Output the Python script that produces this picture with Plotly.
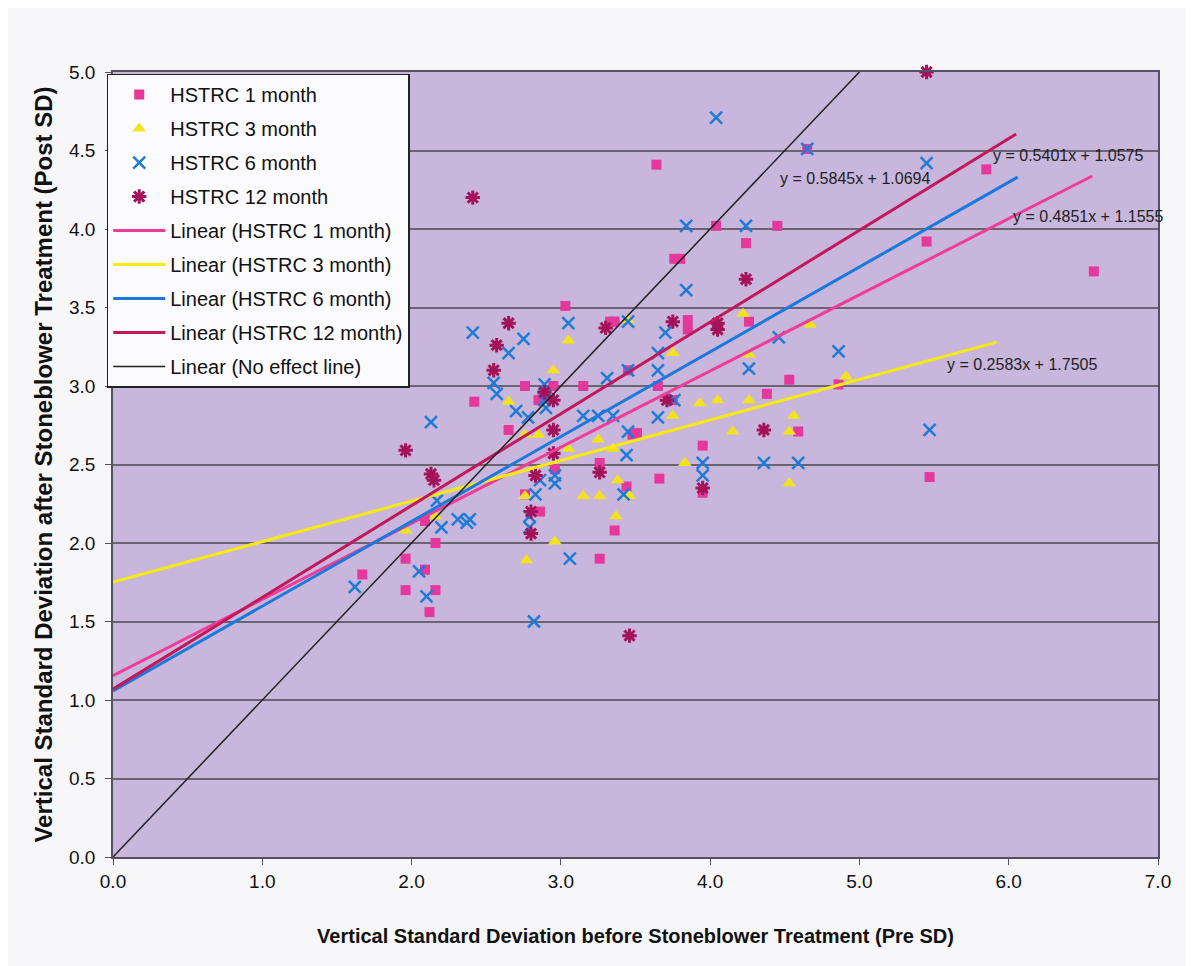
import plotly.graph_objects as go

# ---- data ----
m1_x = [1.67, 1.96, 1.96, 2.09, 2.16, 2.12, 2.16, 2.09, 2.42, 2.76, 2.95, 3.03, 3.15, 3.36, 3.33, 3.65,
        2.85, 3.75, 2.65, 3.51, 3.95, 3.26, 2.96, 3.66, 3.44, 2.76, 2.86, 3.95, 3.36, 3.26, 3.64, 4.65,
        4.04, 4.45, 4.24, 3.76, 3.80, 3.85, 3.85, 4.26, 3.45, 4.53, 4.38, 4.86, 3.48, 4.59, 5.85, 5.45,
        6.57, 5.47]
m1_y = [1.80, 1.90, 1.70, 1.83, 1.70, 1.56, 2.00, 2.14, 2.90, 3.00, 3.00, 3.51, 3.00, 3.41, 3.41, 3.00,
        2.91, 2.91, 2.72, 2.70, 2.62, 2.51, 2.47, 2.41, 2.36, 2.31, 2.20, 2.32, 2.08, 1.90, 4.41, 4.51,
        4.02, 4.02, 3.91, 3.81, 3.81, 3.42, 3.36, 3.41, 3.10, 3.04, 2.95, 3.01, 2.69, 2.71, 4.38, 3.92,
        3.73, 2.42]

m3_x = [1.96, 2.16, 3.05, 2.95, 3.75, 2.65, 3.93, 4.05, 3.75, 2.76, 2.85, 3.05, 3.25, 3.35, 3.83, 3.38,
        2.76, 3.15, 3.26, 3.46, 3.37, 2.96, 2.77, 4.22, 4.67, 4.26, 4.91, 4.26, 4.56, 4.15, 4.53, 4.53,
        3.45]
m3_y = [2.08, 2.17, 3.29, 3.10, 3.21, 2.90, 2.89, 2.91, 2.81, 2.69, 2.69, 2.60, 2.66, 2.60, 2.51, 2.40,
        2.30, 2.30, 2.30, 2.30, 2.17, 2.01, 1.89, 3.46, 3.39, 3.20, 3.06, 2.91, 2.81, 2.71, 2.71, 2.38,
        3.42]

m6_x = [2.13, 2.20, 2.05, 2.10, 1.62, 2.17, 2.31, 2.37, 2.39, 2.82, 3.06, 2.41, 2.75, 2.65, 3.05, 3.45,
        3.70, 3.84, 3.65, 3.65, 3.45, 3.31, 2.89, 2.55, 2.57, 2.90, 2.70, 2.78, 3.15, 3.25, 3.35, 3.65,
        3.45, 3.44, 2.96, 2.96, 2.86, 3.42, 3.95, 3.95, 2.83, 2.79, 2.79, 4.04, 4.65, 3.84, 4.24, 4.46,
        4.86, 4.26, 3.76, 4.36, 4.59, 5.45, 5.47, 2.89]
m6_y = [2.77, 2.10, 1.82, 1.66, 1.72, 2.27, 2.15, 2.13, 2.15, 1.50, 1.90, 3.34, 3.30, 3.21, 3.40, 3.41,
        3.34, 3.61, 3.21, 3.10, 3.10, 3.05, 3.01, 3.02, 2.95, 2.86, 2.84, 2.80, 2.81, 2.81, 2.81, 2.80,
        2.71, 2.56, 2.43, 2.38, 2.40, 2.31, 2.51, 2.43, 2.31, 2.17, 2.10, 4.71, 4.51, 4.02, 4.02, 3.31,
        3.22, 3.11, 2.91, 2.51, 2.51, 4.42, 2.72, 2.91]

m12_x = [2.41, 5.45, 1.96, 2.13, 2.15, 2.65, 2.57, 2.55, 3.30, 3.75, 4.05, 4.05, 2.89, 2.95, 3.71, 2.95,
         2.95, 2.83, 3.26, 2.80, 2.80, 3.95, 4.36, 4.24, 3.46]
m12_y = [4.20, 5.00, 2.59, 2.44, 2.40, 3.40, 3.26, 3.10, 3.37, 3.41, 3.40, 3.36, 2.96, 2.91, 2.91, 2.72,
         2.57, 2.43, 2.45, 2.20, 2.06, 2.35, 2.72, 3.68, 1.41]

trend_names = ["Linear (HSTRC 1 month)", "Linear (HSTRC 3 month)", "Linear (HSTRC 6 month)",
               "Linear (HSTRC 12 month)"]
trend_slope = [0.4851, 0.2583, 0.5401, 0.5845]
trend_icept = [1.1555, 1.7505, 1.0575, 1.0694]
trend_xend = [6.56, 5.92, 6.06, 6.05]
trend_label = ["y = 0.4851x + 1.1555", "y = 0.2583x + 1.7505", "y = 0.5401x + 1.0575",
               "y = 0.5845x + 1.0694"]

noeffect_x = [0.0, 5.0]
noeffect_y = [0.0, 5.0]

x_ticks = [0, 1, 2, 3, 4, 5, 6, 7]
y_ticks = [0, 0.5, 1.0, 1.5, 2.0, 2.5, 3.0, 3.5, 4.0, 4.5, 5.0]

# ---- styles ----
c_pink = "#e6379a"
c_yellow = "#f3e31c"
c_blue = "#1f7bd8"
c_dark = "#a5125c"
line_cols = ["#ee3c98", "#f7ea10", "#1b78dc", "#c2185b"]
FONT = "Liberation Sans, Arial, sans-serif"

fig = go.Figure()

fig.add_trace(go.Scatter(x=m1_x, y=m1_y, mode="markers", name="HSTRC 1 month", legendgroup="a",
                         marker=dict(symbol="square", size=10, color=c_pink)))
fig.add_trace(go.Scatter(x=m3_x, y=m3_y, mode="markers", name="HSTRC 3 month", legendgroup="b",
                         marker=dict(symbol="triangle-up", size=12, color=c_yellow)))
fig.add_trace(go.Scatter(x=m6_x, y=m6_y, mode="markers", name="HSTRC 6 month", legendgroup="c",
                         marker=dict(symbol="x-thin-open", size=12, color=c_blue,
                                     line=dict(width=2.5, color=c_blue))))
fig.add_trace(go.Scatter(x=m12_x, y=m12_y, mode="markers", name="HSTRC 12 month", legendgroup="d",
                         cliponaxis=False,
                         marker=dict(symbol="asterisk-open", size=12, color=c_dark,
                                     line=dict(width=3, color=c_dark))))

for i in range(4):
    xs = [0.0, trend_xend[i]]
    ys = [trend_icept[i] + trend_slope[i] * v for v in xs]
    fig.add_trace(go.Scatter(x=xs, y=ys, mode="lines", name=trend_names[i], legendgroup="t%d" % i,
                             line=dict(color=line_cols[i], width=3)))

fig.add_trace(go.Scatter(x=noeffect_x, y=noeffect_y, mode="lines", name="Linear (No effect line)",
                         legendgroup="z", line=dict(color="#202020", width=1.5)))

# equation labels
label_pos = [(6.53, 4.08), (6.09, 3.14), (6.40, 4.47), (4.97, 4.32)]
for i in range(4):
    fig.add_annotation(x=label_pos[i][0], y=label_pos[i][1], text=trend_label[i], showarrow=False,
                       font=dict(family=FONT, size=16, color="#222222"))

fig.update_layout(
    width=1194, height=966,
    margin=dict(l=105, r=44, t=64, b=117),
    paper_bgcolor="#f7f7f9",
    plot_bgcolor="#c8b6dc",
    font=dict(family=FONT, color="#111111"),
    legend=dict(x=-0.006, y=0.998, xanchor="left", yanchor="top", bgcolor="#fbfbfd",
                bordercolor="#222222", borderwidth=1.5, font=dict(family=FONT, size=20),
                traceorder="grouped", tracegroupgap=5, itemwidth=52),
    showlegend=True,
)
fig.update_xaxes(range=[0, 7], tickvals=x_ticks, tickformat=".1f", showgrid=False, zeroline=False,
                 showline=True, linecolor="#555060", linewidth=1.5, mirror=True,
                 ticks="outside", ticklen=6, tickcolor="#555060",
                 tickfont=dict(family=FONT, size=19),
                 title=dict(text="<b>Vertical Standard Deviation before Stoneblower Treatment (Pre SD)</b>",
                            font=dict(family=FONT, size=20), standoff=38))
fig.update_yaxes(range=[0, 5], tickvals=y_ticks, tickformat=".1f", showgrid=True, gridcolor="#6a6470",
                 gridwidth=1.5, zeroline=False,
                 showline=True, linecolor="#555060", linewidth=1.5, mirror=True,
                 ticks="outside", ticklen=6, tickcolor="#555060", ticklabelstandoff=6,
                 tickfont=dict(family=FONT, size=19),
                 title=dict(text="<b>Vertical Standard Deviation after Stoneblower Treatment (Post SD)</b>",
                            font=dict(family=FONT, size=24), standoff=10))

fig.write_html("out.html")
